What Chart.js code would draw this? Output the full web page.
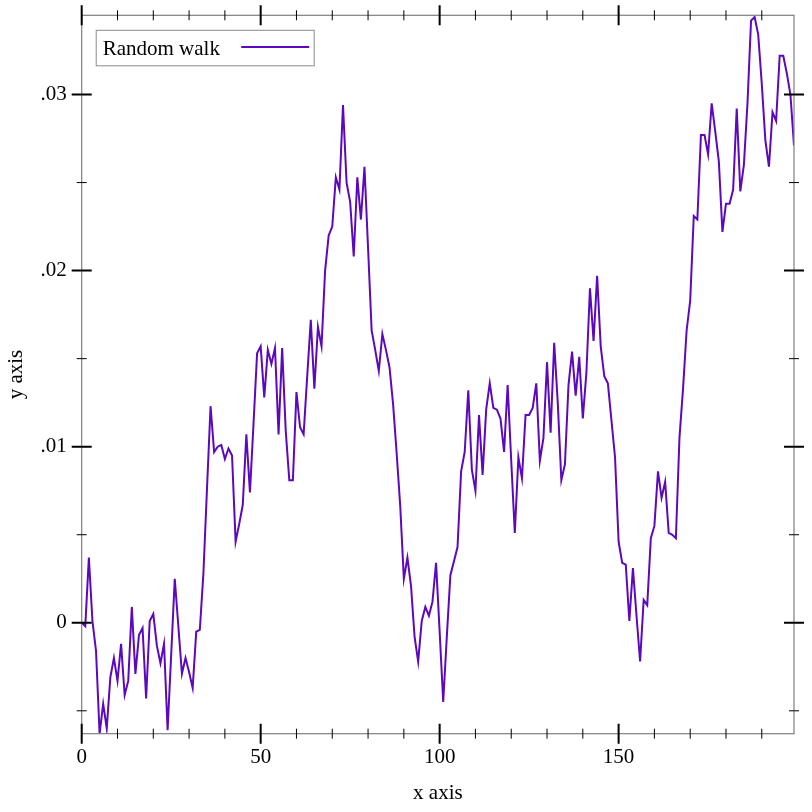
<!DOCTYPE html>
<html>
<head>
<meta charset="utf-8">
<script src="https://cdn.jsdelivr.net/npm/chart.js@4.4.1/dist/chart.umd.min.js"></script>
<style>
  html, body { margin: 0; padding: 0; background: #ffffff; }
  #wrap { width: 812px; height: 812px; }
</style>
</head>
<body>
<div id="wrap"><canvas id="c" width="812" height="812"></canvas></div>
<script>
// ---- data ----
const seriesLabel = "Random walk";
const walkValues = [
  0.0000, -0.0002, 0.0037, 0.0001, -0.0016, -0.0063, -0.0046, -0.0060, -0.0031, -0.0020,
  -0.0033, -0.0012, -0.0041, -0.0033, 0.0009, -0.0029, -0.0007, -0.0003, -0.0043, 0.0001,
  0.0005, -0.0013, -0.0023, -0.0012, -0.0061, -0.0018, 0.0025, -0.0002, -0.0029, -0.0020,
  -0.0028, -0.0037, -0.0005, -0.0004, 0.0028, 0.0076, 0.0123, 0.0097, 0.0100, 0.0101,
  0.0093, 0.0099, 0.0095, 0.0046, 0.0056, 0.0067, 0.0107, 0.0074, 0.0113, 0.0153,
  0.0157, 0.0128, 0.0155, 0.0147, 0.0156, 0.0107, 0.0156, 0.0109, 0.0081, 0.0081,
  0.0131, 0.0111, 0.0107, 0.0140, 0.0172, 0.0133, 0.0168, 0.0157, 0.0200, 0.0220,
  0.0225, 0.0253, 0.0246, 0.0294, 0.0250, 0.0239, 0.0208, 0.0253, 0.0229, 0.0259,
  0.0213, 0.0166, 0.0155, 0.0143, 0.0164, 0.0155, 0.0145, 0.0124, 0.0096, 0.0066,
  0.0025, 0.0037, 0.0021, -0.0008, -0.0022, 0.0001, 0.0009, 0.0004, 0.0012, 0.0034,
  -0.0005, -0.0045, -0.0008, 0.0027, 0.0035, 0.0043, 0.0086, 0.0097, 0.0132, 0.0087,
  0.0075, 0.0118, 0.0084, 0.0121, 0.0136, 0.0122, 0.0121, 0.0116, 0.0097, 0.0135,
  0.0092, 0.0051, 0.0094, 0.0082, 0.0118, 0.0118, 0.0122, 0.0136, 0.0092, 0.0105,
  0.0148, 0.0108, 0.0159, 0.0125, 0.0081, 0.0090, 0.0135, 0.0154, 0.0129, 0.0151,
  0.0116, 0.0142, 0.0190, 0.0160, 0.0197, 0.0157, 0.0140, 0.0136, 0.0115, 0.0094,
  0.0046, 0.0034, 0.0033, 0.0001, 0.0031, 0.0004, -0.0022, 0.0013, 0.0010, 0.0048,
  0.0055, 0.0086, 0.0071, 0.0080, 0.0051, 0.0050, 0.0048, 0.0105, 0.0133, 0.0166,
  0.0183, 0.0231, 0.0229, 0.0277, 0.0277, 0.0266, 0.0295, 0.0279, 0.0262, 0.0222,
  0.0238, 0.0238, 0.0246, 0.0292, 0.0245, 0.0260, 0.0295, 0.0342, 0.0344, 0.0334,
  0.0306, 0.0274, 0.0259, 0.0290, 0.0285, 0.0322, 0.0322, 0.0312, 0.0300, 0.0271
];
const xMajorTicks = [0, 50, 100, 150];
const xMinorTicks = [10, 20, 30, 40, 60, 70, 80, 90, 110, 120, 130, 140, 160, 170, 180, 190];
const yMajorTicks = [0, 0.01, 0.02, 0.03];
const yMajorLabels = ["0", ".01", ".02", ".03"];
const yMinorTicks = [-0.005, 0.005, 0.015, 0.025];
const xTitle = "x axis";
const yTitle = "y axis";

// ---- style ----
const FONT = "'Liberation Serif', 'Times New Roman', serif";
const LINE_COLOR = "rgb(92, 8, 190)";
const FRAME_COLOR = "#7f7f7f";

const points = walkValues.map((v, i) => ({ x: i, y: v }));

const framePlugin = {
  id: "frame",
  afterDraw(chart) {
    const ctx = chart.ctx;
    const a = chart.chartArea;
    const xs = chart.scales.x, ys = chart.scales.y;
    ctx.save();
    ctx.strokeStyle = FRAME_COLOR;
    ctx.lineWidth = 1.2;
    ctx.strokeRect(a.left, a.top, a.right - a.left, a.bottom - a.top);
    ctx.strokeStyle = "#000";
    const drawX = (vals, half, w) => {
      ctx.lineWidth = w;
      vals.forEach(v => {
        const px = xs.getPixelForValue(v);
        ctx.beginPath();
        ctx.moveTo(px, a.bottom - half); ctx.lineTo(px, a.bottom + half);
        ctx.moveTo(px, a.top - half); ctx.lineTo(px, a.top + half);
        ctx.stroke();
      });
    };
    const drawY = (vals, half, w) => {
      ctx.lineWidth = w;
      vals.forEach(v => {
        const py = ys.getPixelForValue(v);
        ctx.beginPath();
        ctx.moveTo(a.left - half, py); ctx.lineTo(a.left + half, py);
        ctx.moveTo(a.right - half, py); ctx.lineTo(a.right + half, py);
        ctx.stroke();
      });
    };
    drawX(xMinorTicks, 5, 1);
    drawX(xMajorTicks, 10, 2);
    drawY(yMinorTicks, 5, 1);
    drawY(yMajorTicks, 10, 2);

    // legend box
    const ds = chart.data.datasets[0];
    const bx = a.left + 14.5, by = a.top + 15, bw = 218, bh = 35.5;
    ctx.fillStyle = "#fff";
    ctx.fillRect(bx, by, bw, bh);
    ctx.strokeStyle = "#8a8a8a";
    ctx.lineWidth = 1;
    ctx.strokeRect(bx, by, bw, bh);
    ctx.fillStyle = "#000";
    ctx.font = "21px " + FONT;
    ctx.textBaseline = "middle";
    ctx.textAlign = "left";
    ctx.fillText(ds.label, bx + 6.5, by + bh / 2 + 1);
    ctx.strokeStyle = ds.borderColor;
    ctx.lineWidth = 2;
    ctx.beginPath();
    ctx.moveTo(bx + 145, by + bh / 2 - 1);
    ctx.lineTo(bx + 213, by + bh / 2 - 1);
    ctx.stroke();
    ctx.restore();
  }
};

new Chart(document.getElementById("c"), {
  type: "line",
  data: {
    datasets: [{
      label: seriesLabel,
      data: points,
      borderColor: LINE_COLOR,
      backgroundColor: LINE_COLOR,
      borderWidth: 2,
      pointRadius: 0,
      tension: 0,
      fill: false
    }]
  },
  options: {
    responsive: false,
    animation: false,
    devicePixelRatio: 1,
    layout: { padding: { top: 15.3, right: 18, left: 0, bottom: 0 } },
    plugins: {
      legend: { display: false },
      tooltip: { enabled: false }
    },
    scales: {
      x: {
        type: "linear",
        min: 0,
        max: 199,
        afterBuildTicks(scale) {
          scale.ticks = xMajorTicks.map(v => ({ value: v }));
        },
        afterFit(scale) {
          scale.height = 78.3;
          scale.paddingLeft = 0; scale.paddingRight = 0;
        },
        grid: { display: false, drawTicks: false },
        border: { display: false },
        ticks: {
          autoSkip: false,
          maxRotation: 0,
          padding: 11,
          color: "#000",
          font: { family: FONT, size: 21 },
          callback: v => String(v)
        },
        title: {
          display: true,
          text: xTitle,
          color: "#000",
          font: { family: FONT, size: 21 },
          padding: { top: 0, bottom: 6 }
        }
      },
      y: {
        type: "linear",
        min: -0.0063,
        max: 0.0345,
        afterBuildTicks(scale) {
          scale.ticks = yMajorTicks.map(v => ({ value: v }));
        },
        afterFit(scale) {
          scale.width = 81.7;
          scale.paddingTop = 0; scale.paddingBottom = 0;
        },
        grid: { display: false, drawTicks: false },
        border: { display: false },
        ticks: {
          autoSkip: false,
          padding: 15,
          color: "#000",
          font: { family: FONT, size: 21 },
          callback: (v) => {
            const k = yMajorTicks.findIndex(t => Math.abs(t - v) < 1e-9);
            return k >= 0 ? yMajorLabels[k] : "";
          }
        },
        title: {
          display: true,
          text: yTitle,
          color: "#000",
          font: { family: FONT, size: 21 },
          padding: { top: 4, bottom: 0 }
        }
      }
    }
  },
  plugins: [framePlugin]
});
</script>
</body>
</html>
